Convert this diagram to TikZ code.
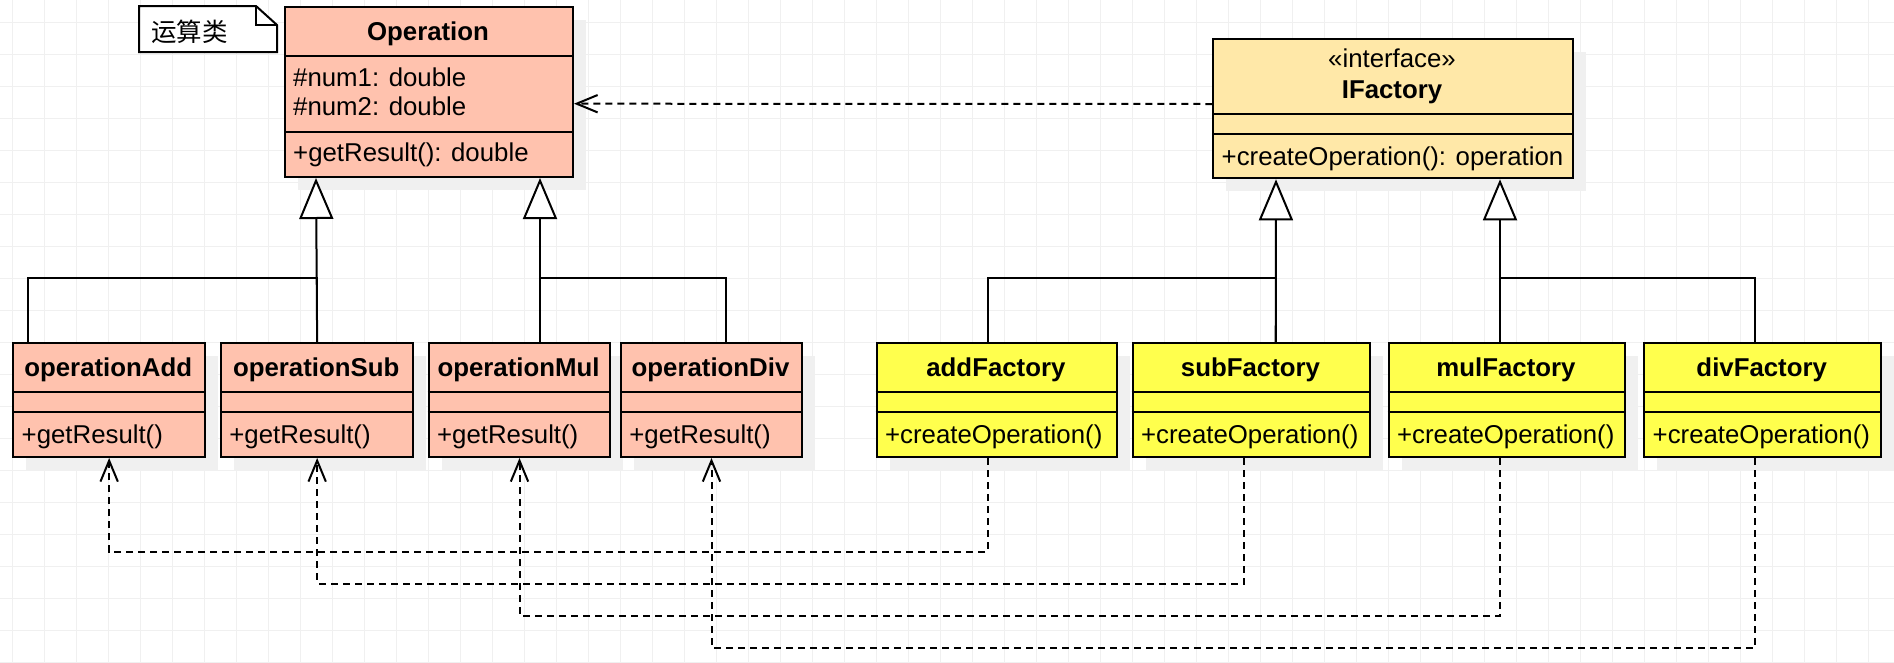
\documentclass[tikz,border=0pt]{standalone}
\usepackage{fontspec}
\setmainfont{Liberation Sans}
\newfontfamily\cjk{Noto Sans CJK SC}
\usetikzlibrary{arrows.meta,shadows,calc}

\definecolor{opfill}{HTML}{FFC2AE}
\definecolor{iffill}{HTML}{FFE8A8}
\definecolor{facfill}{HTML}{FFFF4D}
\definecolor{gridc}{HTML}{F0F0F0}
\definecolor{shadowc}{HTML}{F0F0F0}

\tikzset{
  gridline/.style={draw=gridc, line width=1pt},
  classbox/.style={draw=black, line width=2pt, rectangle, inner sep=0pt,
    anchor=north west,
    drop shadow={shadow xshift=13pt, shadow yshift=-13pt, fill=shadowc, opacity=1}},
  divider/.style={draw=black, line width=2pt},
  ctitle/.style={font=\bfseries\fontsize{25.8pt}{29pt}\selectfont, inner sep=0pt, anchor=base},
  cplain/.style={font=\fontsize{25.8pt}{29pt}\selectfont, inner sep=0pt, anchor=base},
  cmember/.style={font=\fontsize{25.8pt}{29pt}\selectfont, inner sep=0pt, anchor=base west},
  plain/.style={draw=black, line width=2pt},
  inherit/.style={plain, -{Triangle[width=34pt, length=41pt, fill=white]}},
  depend/.style={plain, dash pattern=on 7pt off 5pt,
    -{Straight Barb[length=21pt, width=17.4pt]}},
}

% class box: name, left, top, right, bottom, first divider, second divider, fill
\newcommand\umlclass[8]{%
  \node[classbox, fill=#8, minimum width={(#4-#2)*1pt}, minimum height={(#5-#3)*1pt}] (#1) at (#2,#3) {};
  \draw[divider] (#2,#6) -- (#4,#6);
  \draw[divider] (#2,#7) -- (#4,#7);
}

\begin{document}
\begin{tikzpicture}[x=1pt,y=-1pt]
\useasboundingbox (0,0) rectangle (1894,662);
\fill[white] (0,0) rectangle (1894,662);

% background grid
\foreach \k in {0,...,58} \draw[gridline] ({12.7+32*\k},0) -- ({12.7+32*\k},662);
\foreach \k in {0,...,20} \draw[gridline] (0,{22+32*\k}) -- (1894,{22+32*\k});

% note
\draw[line width=2pt, fill=white, line join=miter] (139,6) -- (256,6) -- (277,25) -- (277,52) -- (139,52) -- cycle;
\draw[line width=2pt] (256,6) -- (256,25) -- (277,25);
\node[cmember, font=\cjk\fontsize{25.5pt}{29pt}\selectfont] (noteText) at (151,41) {运算类};

% abstract operation
\umlclass{Operation}{284}{6}{572}{176}{56}{132}{opfill}
\node[ctitle] (opName) at (428,40.5) {Operation};
\node[cmember] (opAttrA) at (293,86) {\#num1: double};
\node[cmember] (opAttrB) at (293,115) {\#num2: double};
\node[cmember] (opMeth) at (293,161.5) {+getResult(): double};

% factory interface
\umlclass{IFactory}{1212.3}{38.3}{1571.7}{177.3}{114}{134}{iffill}
\node[cplain] (ifStereo) at (1392,67.5) {«interface»};
\node[ctitle] (ifName) at (1392,98.3) {IFactory};
\node[cmember] (ifMeth) at (1221.5,165) {+createOperation(): operation};

% concrete operations
\umlclass{opAdd}{12.3}{342.3}{204}{456}{392}{412}{opfill}
\umlclass{opSub}{220}{342.3}{412.3}{456}{392}{412}{opfill}
\umlclass{opMul}{427.7}{342.3}{609.3}{456}{392}{412}{opfill}
\umlclass{opDiv}{620}{342.3}{801}{456}{392}{412}{opfill}
\node[ctitle] (opAddName) at (108.2,376) {operationAdd};
\node[ctitle] (opSubName) at (316.2,376) {operationSub};
\node[ctitle] (opMulName) at (518.5,376) {operationMul};
\node[ctitle] (opDivName) at (710.5,376) {operationDiv};
\node[cmember] (opAddMeth) at (21.5,443.3) {+getResult()};
\node[cmember] (opSubMeth) at (229.2,443.3) {+getResult()};
\node[cmember] (opMulMeth) at (436.9,443.3) {+getResult()};
\node[cmember] (opDivMeth) at (629.2,443.3) {+getResult()};

% concrete factories
\umlclass{addF}{875.7}{342.3}{1116}{456}{392}{412}{facfill}
\umlclass{subF}{1131.7}{342.3}{1369.3}{456}{392}{412}{facfill}
\umlclass{mulF}{1387.7}{342.3}{1624.3}{456}{392}{412}{facfill}
\umlclass{divF}{1643.3}{342.3}{1880}{456}{392}{412}{facfill}
\node[ctitle] (addFName) at (995.9,376) {addFactory};
\node[ctitle] (subFName) at (1250.5,376) {subFactory};
\node[ctitle] (mulFName) at (1506,376) {mulFactory};
\node[ctitle] (divFName) at (1761.7,376) {divFactory};
\node[cmember] (addFMeth) at (884.9,443.3) {+createOperation()};
\node[cmember] (subFMeth) at (1140.9,443.3) {+createOperation()};
\node[cmember] (mulFMeth) at (1396.9,443.3) {+createOperation()};
\node[cmember] (divFMeth) at (1652.5,443.3) {+createOperation()};

% generalisation of the operations
\draw[inherit] (opSub.north) -- ($(Operation.south west)+(32,0)$);
\draw[plain] ($(opAdd.north west)+(15.7,0)$) -- ++(0,-64) -| (opSub.north);
\draw[inherit] ($(opMul.north west)+(112.3,0)$) -- ($(Operation.south west)+(256,0)$);
\draw[plain] ($(opDiv.north west)+(106,0)$) -- ++(0,-64) -| ($(opMul.north west)+(112.3,0)$);

% realisation of the factory interface
\draw[inherit] ($(subF.north west)+(144,0)$) -- ($(IFactory.south west)+(63.7,0)$);
\draw[plain] ($(addF.north west)+(112,0)$) -- ++(0,-64) -| ($(subF.north west)+(144,0)$);
\draw[inherit] ($(mulF.north west)+(112.3,0)$) -- ($(IFactory.south west)+(287.7,0)$);
\draw[plain] ($(divF.north west)+(111.7,0)$) -- ++(0,-64) -| ($(mulF.north west)+(112.3,0)$);

% dependencies
\draw[depend] ($(IFactory.north west)+(0,65.7)$) -- ($(Operation.north east)+(0,97.7)$);
\draw[depend] ($(addF.south west)+(112,0)$) -- ++(0,93.5) -| (opAdd.south);
\draw[depend] ($(subF.south west)+(112.3,0)$) -- ++(0,125.5) -| (opSub.south);
\draw[depend] ($(mulF.south west)+(112.3,0)$) -- ++(0,157.5) -| (opMul.south);
\draw[depend] ($(divF.south west)+(111.7,0)$) -- ++(0,189.5) -| (opDiv.south);
\end{tikzpicture}
\end{document}
